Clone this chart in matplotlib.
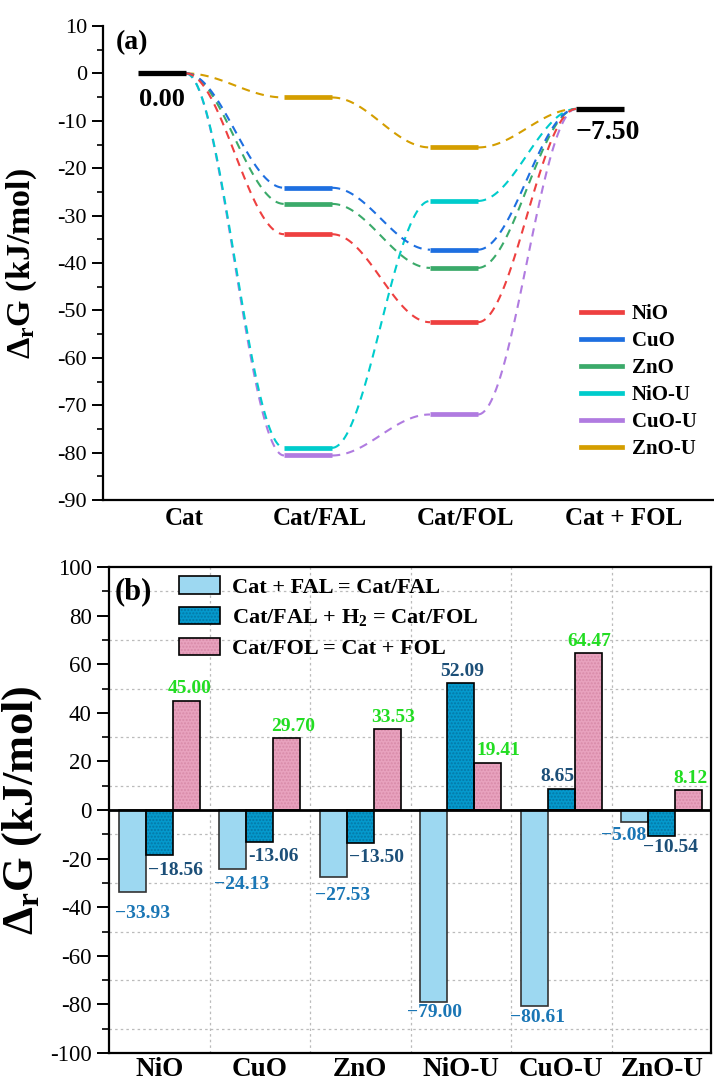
import numpy as np
import matplotlib.pyplot as plt
from matplotlib.patches import Patch
from matplotlib.lines import Line2D
from matplotlib.ticker import MultipleLocator

# --- Fonts ---
plt.rcParams["font.family"] = ["Liberation Serif", "DejaVu Serif"]
plt.rcParams["mathtext.fontset"] = "custom"
plt.rcParams["mathtext.rm"] = "Liberation Serif"
plt.rcParams["mathtext.bf"] = "Liberation Serif:bold"
plt.rcParams["axes.linewidth"] = 1.6
plt.rcParams["axes.unicode_minus"] = False

# --- Data: energy profile (panel a) ---
steps = ["Cat", "Cat/FAL", "Cat/FOL", "Cat + FOL"]
catalysts = ["NiO", "CuO", "ZnO", "NiO-U", "CuO-U", "ZnO-U"]
start_level = 0.00
end_level = -7.50
fal_levels = [-33.93, -24.13, -27.53, -79.00, -80.61, -5.08]
fol_levels = [-52.49, -37.19, -41.03, -26.91, -71.96, -15.62]
line_colors = ["#EE4040", "#1E6FE0", "#3BAA6A", "#00CCCC", "#B07BE0", "#D49E00"]

# --- Data: reaction energies (panel b) ---
reactions = ["Cat + FAL = Cat/FAL", "Cat/FAL + H$_\\mathbf{2}$ = Cat/FOL", "Cat/FOL = Cat + FOL"]
dg_adsorb = [-33.93, -24.13, -27.53, -79.00, -80.61, -5.08]
dg_hydro = [-18.56, -13.06, -13.50, 52.09, 8.65, -10.54]
dg_desorb = [45.00, 29.70, 33.53, 19.41, 64.47, 8.12]
lbl_adsorb = ["\u221233.93", "\u221224.13", "\u221227.53", "\u221279.00", "\u221280.61", "\u22125.08"]
lbl_hydro = ["\u221218.56", "-13.06", "\u221213.50", "52.09", "8.65", "\u221210.54"]
lbl_desorb = ["45.00", "29.70", "33.53", "19.41", "64.47", "8.12"]

bar_fill = ["#9DD8F1", "#0599CC", "#E8A2BE"]
bar_hatch = [None, "#0478A6", "#D88AA8"]
bar_edge = ["#333333", "#000000", "#000000"]
label_colors = ["#1A76B5", "#1C4F78", "#22DD22"]

# label offsets in pixels (dx, dy) per bar
off_adsorb = [(10, -21), (9, -16), (9, -19), (1, -11), (3, -12), (-11, -13)]
off_hydro = [(16, -15), (14, -15), (16, -15), (1, 12), (-4, 12), (9, -12)]
off_desorb = [(3, 12), (6, 11), (6, 11), (10, 12), (1, 12), (2, 12)]

PX = 0.72  # points per pixel at dpi=100

fig = plt.figure(figsize=(7.14, 10.84), dpi=100)

# ===================== panel (a) =====================
ax1 = fig.add_axes([103 / 714, 1 - 500 / 1084, 611 / 714, 474 / 1084])
hw = 0.164
for i in reversed(range(len(catalysts))):
    ys = [start_level, fal_levels[i], fol_levels[i], end_level]
    c = line_colors[i]
    z = 2 + (len(catalysts) - i) * 0.01
    for k in range(3):
        t = np.linspace(0, 1, 60)
        xs = np.linspace(k + hw, k + 1 - hw, 60)
        s = (1 - np.cos(np.pi * t)) / 2
        ax1.plot(xs, ys[k] + (ys[k + 1] - ys[k]) * s, color=c, lw=1.5,
                 ls=(0, (4, 3)), zorder=z)
    for k in (1, 2):
        ax1.plot([k - hw, k + hw], [ys[k], ys[k]], color=c, lw=3.4,
                 solid_capstyle="butt", zorder=z + 1)
ax1.plot([-hw, hw], [start_level] * 2, color="black", lw=3.8,
         solid_capstyle="butt", zorder=4)
ax1.plot([3 - hw, 3 + hw], [end_level] * 2, color="black", lw=3.8,
         solid_capstyle="butt", zorder=4)
ax1.text(0, start_level - 5.5, f"{start_level:.2f}", ha="center", va="center",
         fontsize=19, fontweight="bold")
ax1.text(3.05, end_level - 5.0, f"\u2212{abs(end_level):.2f}", ha="center",
         va="center", fontsize=20, fontweight="bold")

ax1.set_xlim(-0.404, 3.781)
ax1.set_ylim(-90, 10)
ax1.yaxis.set_major_locator(MultipleLocator(10))
ax1.yaxis.set_minor_locator(MultipleLocator(5))
ax1.set_xticks([0.15, 1.08, 2.08, 3.16])
ax1.set_xticklabels(steps, fontsize=18, fontweight="bold")
ax1.tick_params(axis="x", length=0, pad=5)
ax1.tick_params(axis="y", which="major", length=8, width=1.4, labelsize=16, direction="out")
ax1.tick_params(axis="y", which="minor", length=4.5, width=1.2, direction="out")
ax1.spines["top"].set_visible(False)
ax1.spines["right"].set_visible(False)
ax1.set_ylabel(r"$\mathbf{\Delta_{r}G}$ (kJ/mol)", fontsize=24.5, fontweight="bold")
ax1.yaxis.set_label_coords(-0.105, 0.5)
ax1.text(116, 1084 - 43, "(a)", transform=None, fontsize=20, fontweight="bold",
         va="center", ha="left")

handles = [Line2D([], [], color=c, lw=3.4) for c in line_colors]
fig.legend(handles, catalysts, loc="upper left",
           bbox_to_anchor=(581 / 714, 1 - 304 / 1084), frameon=False,
           prop={"size": 15, "weight": "bold"}, handlelength=1.97,
           handletextpad=0.48, labelspacing=0.34, borderpad=0, borderaxespad=0)

# ===================== panel (b) =====================
ax2 = fig.add_axes([109 / 714, 1 - 1053 / 1084, 602 / 714, 486 / 1084])
x = np.arange(len(catalysts))
w = 0.27
series = [dg_adsorb, dg_hydro, dg_desorb]
labels = [lbl_adsorb, lbl_hydro, lbl_desorb]
offsets = [off_adsorb, off_hydro, off_desorb]
leg_handles = []
for j, vals in enumerate(series):
    xp = x + (j - 1) * w
    if bar_hatch[j]:
        ax2.bar(xp, vals, w, color=bar_fill[j], edgecolor=bar_hatch[j],
                hatch=".....", linewidth=0, zorder=3)
        fill_h = Patch(facecolor=bar_fill[j], edgecolor=bar_hatch[j],
                       hatch=".....", linewidth=0)
    else:
        ax2.bar(xp, vals, w, color=bar_fill[j], linewidth=0, zorder=3)
        fill_h = Patch(facecolor=bar_fill[j], linewidth=0)
    ax2.bar(xp, vals, w, color="none", edgecolor=bar_edge[j], linewidth=1.2,
            zorder=4)
    edge_h = Patch(facecolor="none", edgecolor="black", linewidth=1.2)
    leg_handles.append((fill_h, edge_h))
    for xi, v, s, (dx, dy) in zip(xp, vals, labels[j], offsets[j]):
        ax2.annotate(s, (xi, v), xytext=(dx * PX, dy * PX),
                     textcoords="offset points", ha="center", va="center",
                     fontsize=14, fontweight="bold", color=label_colors[j],
                     zorder=5)

ax2.axhline(0, color="black", lw=2, zorder=5)
ax2.set_xlim(-0.5, 5.49)
ax2.set_ylim(-100, 100)
ax2.set_xticks(x)
ax2.set_xticklabels(catalysts, fontsize=19.5, fontweight="bold")
ax2.set_xticks(x[:-1] + 0.5, minor=True)
ax2.yaxis.set_major_locator(MultipleLocator(20))
ax2.yaxis.set_minor_locator(MultipleLocator(10))
ax2.tick_params(axis="x", which="both", length=0, pad=3)
ax2.tick_params(axis="y", which="major", length=9, width=1.4, labelsize=16.5, direction="out")
ax2.tick_params(axis="y", which="minor", length=5, width=1.2, direction="out")
ax2.grid(which="minor", linestyle=(0, (2, 2.5)), color="#BBBBBB", lw=0.9, zorder=0)
ax2.set_ylabel(r"$\mathbf{\Delta_{r}G}$ (kJ/mol)", fontsize=32, fontweight="bold")
ax2.yaxis.set_label_coords(-0.108, 0.5)
ax2.text(115, 1084 - 592, "(b)", transform=None, fontsize=22, fontweight="bold",
         va="center", ha="left")

fig.legend(leg_handles, reactions, loc="upper left",
           bbox_to_anchor=(179 / 714, 1 - 576 / 1084), frameon=False,
           prop={"size": 16, "weight": "bold"}, handlelength=1.85,
           handleheight=0.86, handletextpad=0.54, labelspacing=0.4,
           borderpad=0, borderaxespad=0)

fig.savefig("out.png", dpi=100)
